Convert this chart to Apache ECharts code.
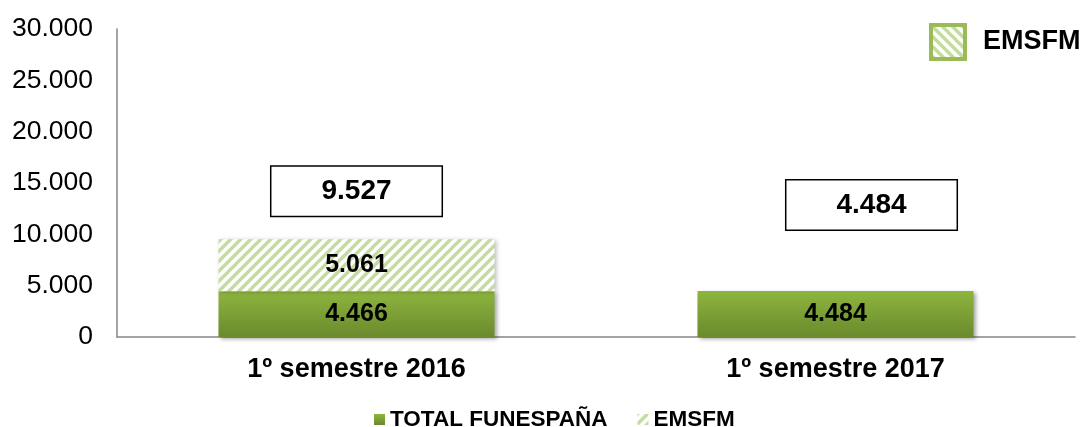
<!DOCTYPE html>
<html>
<head>
<meta charset="utf-8">
<script src="https://cdn.jsdelivr.net/npm/echarts@6/dist/echarts.min.js"></script>
<style>
html,body{margin:0;padding:0;background:#fff;}
#chart{width:1082px;height:427px;}
</style>
</head>
<body>
<div id="chart"></div>
<script>
var categories = ['1º semestre 2016', '1º semestre 2017'];
var totalFunespana = [4466, 4484];
var emsfm = [5061, null];
var totals = [9527, 4484];
var yTicks = [0, 5000, 10000, 15000, 20000, 25000, 30000];

function fmt(n) {
  if (n == null) return '';
  var s = String(Math.round(n));
  return s.replace(/\B(?=(\d{3})+(?!\d))/g, '.');
}

function makePattern(flip) {
  var c = document.createElement('canvas');
  c.width = 10; c.height = 10;
  var ctx = c.getContext('2d');
  ctx.fillStyle = '#ffffff';
  ctx.fillRect(0, 0, 10, 10);
  ctx.strokeStyle = '#c5dca0';
  ctx.lineWidth = 3.5;
  ctx.beginPath();
  if (!flip) {
    ctx.moveTo(-5, 5); ctx.lineTo(5, -5);
    ctx.moveTo(0, 10); ctx.lineTo(10, 0);
    ctx.moveTo(5, 15); ctx.lineTo(15, 5);
  } else {
    ctx.moveTo(-5, 5); ctx.lineTo(5, 15);
    ctx.moveTo(0, 0); ctx.lineTo(10, 10);
    ctx.moveTo(5, -5); ctx.lineTo(15, 5);
  }
  ctx.stroke();
  return c;
}

var hatch = { image: makePattern(false), repeat: 'repeat' };
var hatchLegend = { image: makePattern(true), repeat: 'repeat' };
var greenGrad = new echarts.graphic.LinearGradient(0, 0, 0, 1, [
  { offset: 0, color: '#8eb540' },
  { offset: 1, color: '#6a8a2c' }
]);

var FONT = '"Liberation Sans", Arial, sans-serif';
var boxOffsets = [[0, -48], [36, -86]];

var chart = echarts.init(document.getElementById('chart'), null, { renderer: 'canvas' });
chart.setOption({
  animation: false,
  textStyle: { fontFamily: FONT },
  grid: { left: 117, right: 7, top: 29, bottom: 90, containLabel: false },
  legend: [
    {
      data: ['TOTAL FUNESPAÑA', 'EMSFM'],
      top: 403,
      left: 369,
      itemWidth: 11,
      itemHeight: 11,
      itemGap: 30,
      icon: 'rect',
      textStyle: { fontSize: 22.5, fontWeight: 'bold', color: '#000', fontFamily: FONT },
      selectedMode: false
    },
    {
      data: [{ name: 'EMSFM', itemStyle: { color: hatchLegend } }],
      left: 929,
      top: 23,
      padding: 0,
      itemWidth: 34,
      itemHeight: 34,
      icon: 'rect',
      itemStyle: { borderColor: '#9bbb59', borderWidth: 4 },
      textStyle: { fontSize: 27, fontWeight: 'bold', color: '#000', fontFamily: FONT, padding: [0, 0, 0, 13] },
      selectedMode: false
    }
  ],
  xAxis: {
    type: 'category',
    data: categories,
    axisLine: { show: true, lineStyle: { color: '#868686', width: 1.5 } },
    axisTick: { show: false },
    axisLabel: { fontSize: 27, fontWeight: 'bold', color: '#000', margin: 19, fontFamily: FONT }
  },
  yAxis: {
    type: 'value',
    min: yTicks[0],
    max: yTicks[yTicks.length - 1],
    interval: yTicks[1] - yTicks[0],
    axisLine: { show: true, lineStyle: { color: '#868686', width: 1.5 } },
    axisTick: { show: false },
    splitLine: { show: false },
    axisLabel: { fontSize: 26.5, color: '#000', margin: 24, formatter: function (v) { return fmt(v); }, fontFamily: FONT }
  },
  series: [
    {
      name: 'TOTAL FUNESPAÑA',
      type: 'bar',
      stack: 'a',
      barWidth: 276,
      data: totalFunespana,
      itemStyle: {
        color: greenGrad,
        shadowColor: 'rgba(0,0,0,0.35)', shadowBlur: 4, shadowOffsetX: 2, shadowOffsetY: 2
      },
      label: {
        show: true, position: 'inside', color: '#000', fontSize: 25, fontWeight: 'bold', fontFamily: FONT,
        formatter: function (p) { return fmt(p.value); }
      }
    },
    {
      name: 'EMSFM',
      type: 'bar',
      stack: 'a',
      barWidth: 276,
      data: emsfm,
      itemStyle: {
        color: hatch,
        shadowColor: 'rgba(0,0,0,0.25)', shadowBlur: 4, shadowOffsetX: 2, shadowOffsetY: 1
      },
      label: {
        show: true, position: 'inside', color: '#000', fontSize: 25, fontWeight: 'bold', fontFamily: FONT,
        formatter: function (p) { return fmt(p.value); }
      }
    },
    {
      name: 'Total',
      type: 'scatter',
      symbolSize: 1,
      itemStyle: { color: 'rgba(0,0,0,0)', opacity: 1 },
      data: totals.map(function (v, i) {
        return { value: v, label: { offset: boxOffsets[i] } };
      }),
      label: {
        show: true,
        position: 'inside',
        color: '#000',
        opacity: 1,
        fontSize: 28,
        fontWeight: 'bold',
        fontFamily: FONT,
        backgroundColor: '#fff',
        borderColor: '#000',
        borderWidth: 1.5,
        padding: [11, 50, 10, 50],
        formatter: function (p) { return fmt(p.value); }
      },
      z: 5
    }
  ]
});
</script>
</body>
</html>
